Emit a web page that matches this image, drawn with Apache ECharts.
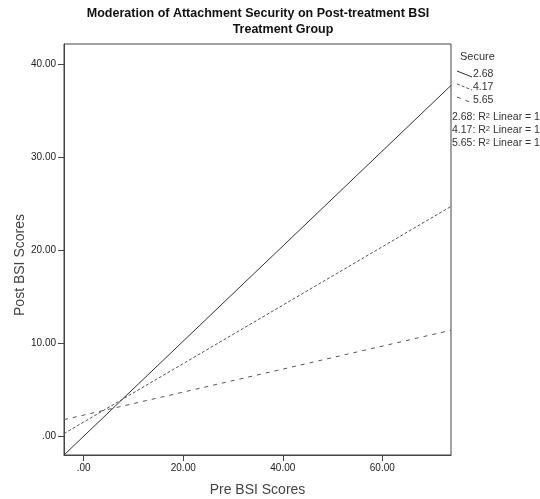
<!DOCTYPE html>
<html>
<head>
<meta charset="utf-8">
<script src="https://cdn.jsdelivr.net/npm/echarts@6/dist/echarts.min.js"></script>
<style>
  html, body { margin: 0; padding: 0; background: #fff; }
  #chart { width: 540px; height: 499px; }
</style>
</head>
<body>
<div id="chart"></div>
<script>
// Fit lines of Post BSI on Pre BSI at three levels of attachment security
const preBsiEnds = [-3.96, 73.8];          // x at the left and right edges of the plot
const secureLevels = ['2.68', '4.17', '5.65'];
const postBsi268 = [-2.0, 37.7];
const postBsi417 = [0.3, 24.7];
const postBsi565 = [1.8, 11.4];
const xTicks = [0, 20, 40, 60];
const yTicks = [0, 10, 20, 30, 40];

const fontFamily = 'Liberation Sans, Arial, sans-serif';
const fmt = v => (v === 0 ? '.00' : v.toFixed(2));
const pairs = ys => preBsiEnds.map((x, i) => [x, ys[i]]);

const lineDefs = [
  { name: secureLevels[0], ys: postBsi268, type: 'solid', color: '#333' },
  { name: secureLevels[1], ys: postBsi417, type: [3, 2], color: '#555' },
  { name: secureLevels[2], ys: postBsi565, type: [4, 5], color: '#555' }
];

const chart = echarts.init(document.getElementById('chart'), null, { renderer: 'canvas' });

// Legend block drawn on the right of the plot
const legendX = 457;
const legendRows = [74, 87, 100];
const legendGraphics = [
  { type: 'text', left: 460, top: 51, style: { text: 'Secure', fontSize: 11, fontFamily, fill: '#333' } }
];
lineDefs.forEach((d, i) => {
  const y = legendRows[i];
  legendGraphics.push({
    type: 'line',
    shape: { x1: legendX, y1: y - 3, x2: legendX + 15, y2: y + 3 },
    style: { stroke: d.color, lineWidth: 1, lineDash: d.type === 'solid' ? null : d.type }
  });
  legendGraphics.push({
    type: 'text', left: 473, top: y - 5,
    style: { text: d.name, fontSize: 10.5, fontFamily, fill: '#333' }
  });
});
const r2Rows = [112, 125, 138];
secureLevels.forEach((lvl, i) => {
  legendGraphics.push({
    type: 'text', left: 452, top: r2Rows[i],
    style: {
      text: '{a|' + lvl + ': R}{s|2}{a| Linear = 1}',
      rich: {
        a: { fontSize: 10.5, fontFamily, fill: '#333' },
        s: { fontSize: 7.5, fontFamily, fill: '#333', verticalAlign: 'top' }
      }
    }
  });
});

const option = {
  animation: false,
  backgroundColor: '#fff',
  grid: {
    left: 64, top: 44, right: 89, bottom: 44,
    outerBoundsMode: 'none',
    containLabel: false,
    show: true, borderColor: '#444', borderWidth: 1, backgroundColor: 'transparent'
  },
  graphic: [
    { type: 'text', x: 258, y: 14,
      style: { text: 'Moderation of Attachment Security on Post-treatment BSI', fontSize: 12.5, fontWeight: 'bold',
               fontFamily, fill: '#111', align: 'center', verticalAlign: 'middle' } },
    { type: 'text', x: 283, y: 29.5,
      style: { text: 'Treatment Group', fontSize: 12.5, fontWeight: 'bold',
               fontFamily, fill: '#111', align: 'center', verticalAlign: 'middle' } },
    { type: 'text', x: 20, y: 265, rotation: Math.PI / 2,
      style: { text: 'Post BSI Scores', fontSize: 14, fontFamily, fill: '#444',
               align: 'center', verticalAlign: 'middle' } },
    ...legendGraphics
  ],
  xAxis: {
    type: 'value',
    min: preBsiEnds[0], max: preBsiEnds[1],
    name: 'Pre BSI Scores',
    nameLocation: 'middle',
    nameGap: 28,
    nameTextStyle: { fontSize: 14, fontFamily, color: '#444' },
    axisLine: { show: true, onZero: false, lineStyle: { color: '#444' } },
    axisTick: { show: true, inside: false, length: 6, customValues: xTicks, lineStyle: { color: '#444' } },
    axisLabel: { customValues: xTicks, formatter: fmt, fontSize: 10, fontFamily, color: '#222', margin: 8 },
    splitLine: { show: false }
  },
  yAxis: {
    type: 'value',
    min: -2, max: 42.15,
    axisLine: { show: true, onZero: false, lineStyle: { color: '#444' } },
    axisTick: { show: true, inside: false, length: 6, customValues: yTicks, lineStyle: { color: '#444' } },
    axisLabel: { customValues: yTicks, formatter: fmt, fontSize: 10, fontFamily, color: '#222', margin: 8 },
    splitLine: { show: false }
  },
  series: lineDefs.map(d => ({
    name: d.name,
    type: 'line',
    data: pairs(d.ys),
    showSymbol: false,
    silent: true,
    lineStyle: { color: d.color, width: 1, type: d.type }
  }))
};

chart.setOption(option);
</script>
</body>
</html>
